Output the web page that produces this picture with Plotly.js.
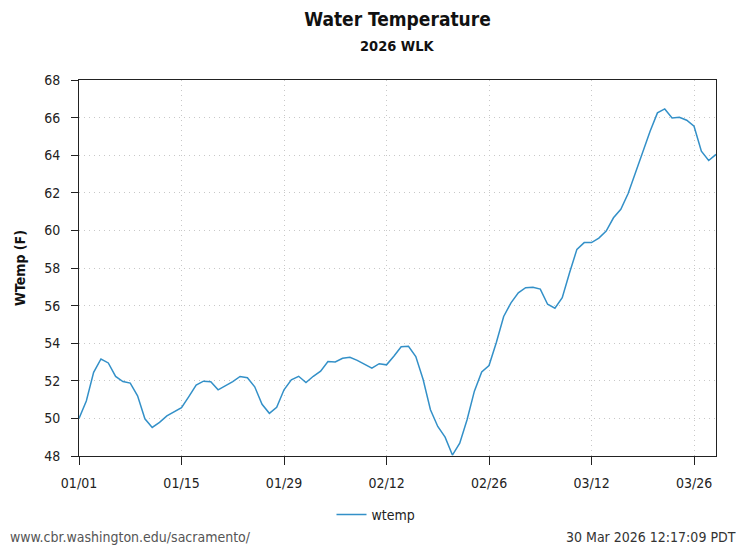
<!DOCTYPE html>
<html>
<head>
<meta charset="utf-8">
<script src="https://cdn.plot.ly/plotly-3.0.1.min.js"></script>
<style>html,body{margin:0;padding:0;background:#fff;}#chart{width:736px;height:546px;}</style>
</head>
<body>
<div id="chart"></div>
<script>
const startDate = "2026-01-01";
const wtemp = [
  50.0, 50.93, 52.45, 53.16, 52.95, 52.23, 51.96, 51.88, 51.2, 49.98,
  49.52, 49.79, 50.13, 50.34, 50.57, 51.16, 51.77, 51.98, 51.95, 51.52,
  51.73, 51.96, 52.23, 52.16, 51.68, 50.75, 50.27, 50.59, 51.52, 52.05,
  52.24, 51.91, 52.24, 52.51, 53.02, 53.0, 53.2, 53.25, 53.09, 52.87,
  52.67, 52.91, 52.85, 53.31, 53.81, 53.84, 53.29, 52.07, 50.46, 49.57,
  49.0, 48.05, 48.68, 49.93, 51.45, 52.47, 52.81, 54.04, 55.42, 56.15,
  56.68, 56.95, 56.98, 56.88, 56.07, 55.86, 56.42, 57.75, 58.99, 59.35,
  59.35, 59.59, 59.96, 60.67, 61.12, 61.96, 63.1, 64.16, 65.27, 66.25,
  66.46, 65.98, 66.02, 65.86, 65.54, 64.21, 63.72, 64.04
];
const seriesName = "wtemp";
const titleText = "Water Temperature";
const subtitleText = "2026 WLK";
const yTitle = "WTemp (F)";
const footerLeft = "www.cbr.washington.edu/sacramento/";
const footerRight = "30 Mar 2026 12:17:09 PDT";

const dates = wtemp.map((_, i) => {
  const d = new Date(Date.UTC(2026, 0, 1 + i));
  return d.toISOString().slice(0, 10);
});

const FONT = "'DejaVu Sans Condensed', 'Liberation Sans Narrow', 'DejaVu Sans', sans-serif";
const PLOT_H = 376, PLOT_B = 456, PLOT_L = 79, PLOT_W = 637;
const py = (pix) => (PLOT_B - pix) / PLOT_H;
const px = (pix) => (pix - PLOT_L) / PLOT_W;

const trace = {
  x: dates, y: wtemp, type: "scatter", mode: "lines", name: seriesName,
  line: {color: "#3390c8", width: 1.5}
};

const gridStyle = {showgrid: true, gridcolor: "#c8c8c8", griddash: "1px,4px", gridwidth: 1};

const layout = {
  width: 736, height: 546,
  margin: {l: 79, r: 20, t: 80, b: 90},
  paper_bgcolor: "#fff", plot_bgcolor: "#fff",
  font: {family: FONT, size: 12, color: "#222"},
  title: {
    text: "<b>" + titleText + "</b>",
    font: {family: FONT, size: 19, color: "#111"},
    x: px(397.5), xanchor: "center", xref: "paper",
    y: 1 - 19/546, yanchor: "middle", yref: "container"
  },
  xaxis: Object.assign({
    type: "date",
    range: [dates[0], dates[dates.length - 1]],
    tick0: startDate, dtick: 14 * 86400000, tickformat: "%m/%d",
    showline: true, linecolor: "#222", linewidth: 1, mirror: true,
    ticks: "outside", ticklen: 8, tickcolor: "#222",
    ticklabelstandoff: 6,
    tickfont: {family: FONT, size: 14, color: "#222"},
    zeroline: false
  }, gridStyle),
  yaxis: Object.assign({
    range: [48, 68], dtick: 2, tick0: 48,
    showline: true, linecolor: "#222", linewidth: 1, mirror: true,
    ticks: "outside", ticklen: 7, tickcolor: "#222",
    ticklabelstandoff: 8,
    tickfont: {family: FONT, size: 14, color: "#222"},
    title: {text: "<b>" + yTitle + "</b>", font: {family: FONT, size: 14, color: "#111"}, standoff: 15},
    zeroline: false
  }, gridStyle),
  showlegend: true,
  legend: {
    orientation: "h", x: px(376), xanchor: "center",
    y: (546 - 515) / 546, yanchor: "middle", yref: "container",
    itemwidth: 30,
    font: {family: FONT, size: 14, color: "#222"}
  },
  annotations: [
    {text: "<b>" + subtitleText + "</b>", xref: "paper", yref: "paper",
     x: px(397.5), y: py(46), xanchor: "center", yanchor: "middle", showarrow: false,
     font: {family: FONT, size: 14.5, color: "#111"}},
    {text: footerLeft, xref: "paper", yref: "paper",
     x: px(8), y: py(537), xanchor: "left", yanchor: "middle", showarrow: false,
     font: {family: FONT, size: 14, color: "#555"}},
    {text: footerRight, xref: "paper", yref: "paper",
     x: px(738), y: py(537), xanchor: "right", yanchor: "middle", showarrow: false,
     font: {family: FONT, size: 14, color: "#333"}}
  ]
};

Plotly.newPlot("chart", [trace], layout, {displayModeBar: false, staticPlot: true});
</script>
</body>
</html>
